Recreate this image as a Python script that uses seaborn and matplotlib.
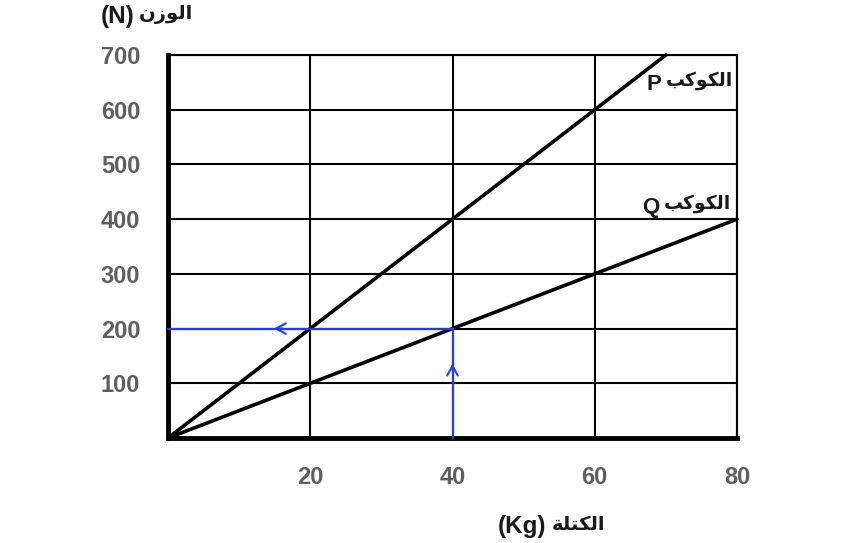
import matplotlib
matplotlib.use("Agg")
import matplotlib.pyplot as plt
import seaborn as sns
import pandas as pd

# ---- data ----
mass_p = [0, 70]
weight_p = [0, 700]
mass_q = [0, 80]
weight_q = [0, 400]
guide_mass = [0, 40, 40]
guide_weight = [200, 200, 0]
x_ticks = [20, 40, 60, 80]
y_ticks = [100, 200, 300, 400, 500, 600, 700]

# Arabic labels (presentation forms, visual order)
ar_weight = "\uFEE5\uFEAF\uFEEE\uFEDF\uFE8D"      # الوزن
ar_mass = "\uFE94\uFEE0\uFE98\uFEDC\uFEDF\uFE8D"  # الكتلة
ar_planet = "\uFE90\uFEDB\uFEEE\uFEDC\uFEDF\uFE8D" # الكوكب
unit_y = "(N)"
unit_x = "(Kg)"
name_p = "P"
name_q = "Q"

sns.set_style("white")
fam = ["Liberation Sans", "DejaVu Sans"]
plt.rcParams["font.family"] = fam

fig = plt.figure(figsize=(8.42, 5.43), dpi=100)
ax = fig.add_axes([168/842, 1-438/543, (737-168)/842, (438-55)/543])

df_p = pd.DataFrame({"m": mass_p, "w": weight_p})
df_q = pd.DataFrame({"m": mass_q, "w": weight_q})
sns.lineplot(data=df_p, x="m", y="w", ax=ax, color="black", lw=2.6, clip_on=False, zorder=4)
sns.lineplot(data=df_q, x="m", y="w", ax=ax, color="black", lw=2.6, clip_on=False, zorder=4)
ax.plot(guide_mass, guide_weight, color="#1f3dff", lw=1.6, zorder=5, clip_on=False)

# arrowheads on guide lines
ax.annotate("", xy=(14.5, 200), xytext=(16.5, 200),
            arrowprops=dict(arrowstyle="->,head_length=0.7,head_width=0.38", color="#1f3dff", lw=1.5), zorder=6)
ax.annotate("", xy=(40, 141), xytext=(40, 120),
            arrowprops=dict(arrowstyle="->,head_length=0.7,head_width=0.38", color="#1f3dff", lw=1.5), zorder=6)

ax.set_xlim(0, 80)
ax.set_ylim(0, 700)
ax.set_xticks(x_ticks)
ax.set_yticks(y_ticks)
ax.grid(True, color="black", lw=1.5)
ax.set_axisbelow(True)
for s in ["top", "right"]:
    ax.spines[s].set_linewidth(1.5)
    ax.spines[s].set_color("black")
for s in ["left", "bottom"]:
    ax.spines[s].set_linewidth(3.5)
    ax.spines[s].set_color("black")
    ax.spines[s].set_capstyle("projecting")
ax.tick_params(axis="both", length=0, labelsize=17, labelcolor="#5f5f5f")
ax.tick_params(axis="y", pad=20)
ax.tick_params(axis="x", pad=20)
for lab in ax.get_xticklabels() + ax.get_yticklabels():
    lab.set_fontweight("bold")
ax.set_xlabel("")
ax.set_ylabel("")

tc = "#1a1a1a"
# y label
fig.text(134/842, 1-17/543, unit_y, ha="right", va="center", fontsize=17.5,
         fontweight="bold", color=tc, family=fam)
fig.text(139/842, 1-15/543, ar_weight, ha="left", va="center", fontsize=14,
         fontweight="bold", color=tc, family=fam)
# x label
fig.text(546/842, 1-527/543, unit_x, ha="right", va="center", fontsize=17.5,
         fontweight="bold", color=tc, family=fam)
fig.text(552/842, 1-525/543, ar_mass, ha="left", va="center", fontsize=14,
         fontweight="bold", color=tc, family=fam)
# planet labels
fig.text(661/842, 1-84/543, name_p, ha="right", va="center", fontsize=16,
         fontweight="bold", color=tc, family=fam)
fig.text(733/842, 1-81/543, ar_planet, ha="right", va="center", fontsize=13.5,
         fontweight="bold", color=tc, family=fam)
fig.text(659/842, 1-207/543, name_q, ha="right", va="center", fontsize=16,
         fontweight="bold", color=tc, family=fam)
fig.text(731/842, 1-204/543, ar_planet, ha="right", va="center", fontsize=13.5,
         fontweight="bold", color=tc, family=fam)

fig.savefig("out.png", dpi=100)
